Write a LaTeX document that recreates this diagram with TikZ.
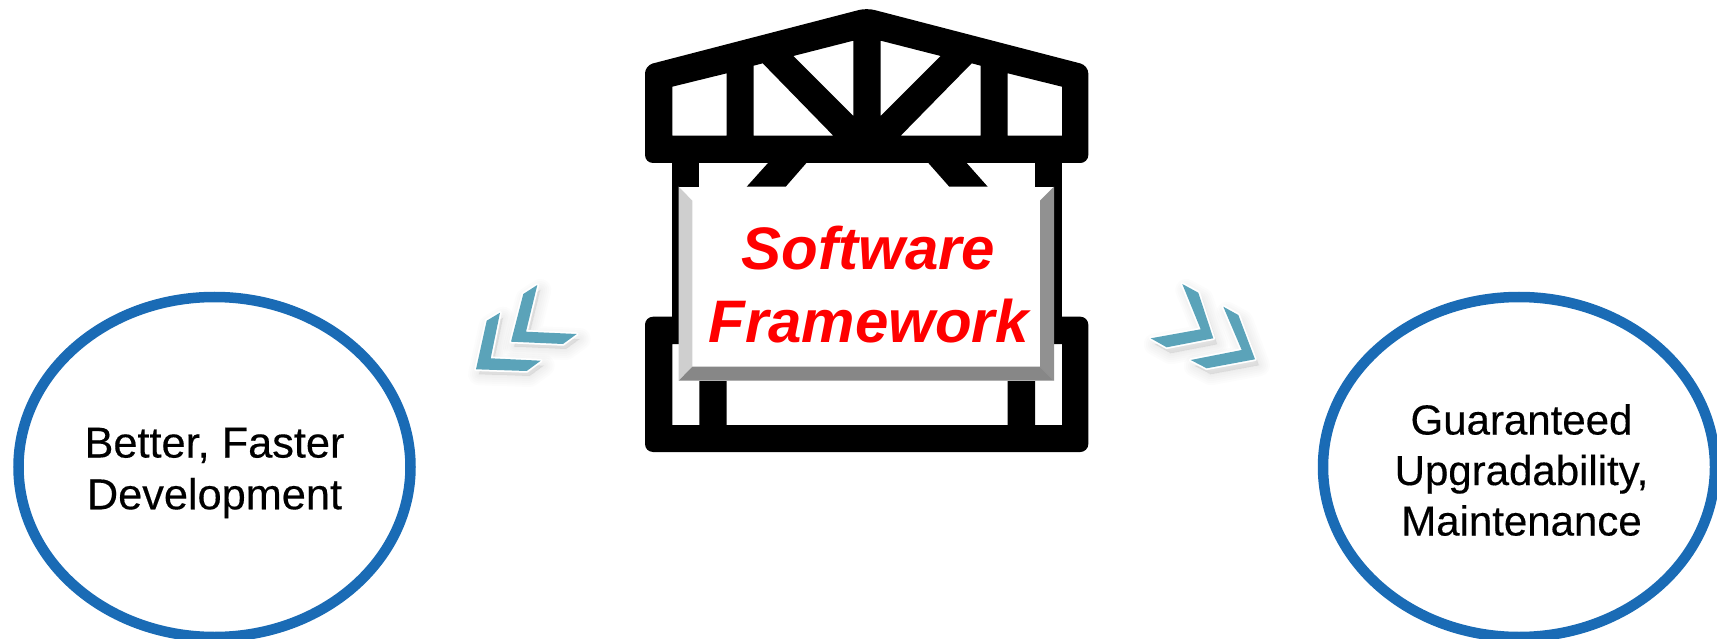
\documentclass[tikz,border=0pt]{standalone}
\usepackage{fontspec}
\setmainfont{Liberation Sans}
\newfontfamily\bubblefont{Liberation Sans}[FakeBold=0.35]
\usetikzlibrary{shapes.geometric}
\definecolor{bubbleblue}{HTML}{1A6BB5}
\definecolor{chevteal}{HTML}{5BA3B9}
\newcommand{\softchev}[3]{%
  \foreach \w in {22,18,14,10,6,2}{
    \fill[black,fill opacity=0.013,draw=black,draw opacity=0.013,line width=\w pt,line join=round,shift={(#1,#2)}] #3 -- cycle;
  }
  \draw[chevhalo] #3 -- cycle;
  \fill[chevteal] #3 -- cycle;
}
\begin{document}
\begin{tikzpicture}[x=1pt,y=-1pt,
  chevhalo/.style={draw=white,fill=white,line width=3.5pt,line join=round},
  bubble/.style={draw=bubbleblue,line width=10.5pt,ellipse,minimum width=392pt,minimum height=340pt,inner sep=0pt},
  bubbletext/.style={align=center,inner sep=0pt,font=\bubblefont},
  signtext/.style={text=red,font=\bfseries\itshape\fontsize{60}{73}\selectfont,align=center,inner sep=0pt}]
\useasboundingbox (0,0) rectangle (1717,639);
% truss
\fill[black,even odd rule,rounded corners=8pt]
  (866.7,8) -- (1088.3,65.5) -- (1088.3,163) -- (645,163) -- (645,65.5) -- cycle
  [sharp corners]
  (672.3,86.7) -- (726.7,73.3) -- (726.7,135.7) -- (672.3,135.7) -- cycle
  (753.7,65.7) -- (762.7,63.3) -- (833.3,135.7) -- (753.7,135.7) -- cycle
  (793.3,56) -- (853.3,40.7) -- (853.3,116) -- cycle
  (880.7,40.7) -- (940.7,56) -- (880.7,116) -- cycle
  (980.7,65.7) -- (971.7,63.3) -- (900.7,135.7) -- (980.7,135.7) -- cycle
  (1007.7,73.3) -- (1062,86.7) -- (1062,135.7) -- (1007.7,135.7) -- cycle;
% posts and diagonals
\fill[black] (672.3,160) rectangle (699.3,330);
\fill[black] (1035,160) rectangle (1062,330);
\fill[black] (770.7,160) -- (809,160) -- (785.7,186.7) -- (746.7,186.7) -- cycle;
\fill[black] (925.7,160) -- (964,160) -- (987.7,186.7) -- (949.3,186.7) -- cycle;
% base
\fill[black,even odd rule,rounded corners=8pt]
  (645,316.7) -- (1088.3,316.7) -- (1088.3,452) -- (645,452) -- cycle
  [sharp corners]
  (672.3,344) rectangle (699.3,425)
  (726.7,344) rectangle (1007.7,425)
  (1035,344) rectangle (1062,425);
% sign
\fill[white] (678.7,186.7) rectangle (1054,380.7);
\fill[black!19] (678.7,186.7) -- (692.3,200.7) -- (692.3,366.7) -- (678.7,380.7) -- cycle;
\fill[black!43] (1054,186.7) -- (1040,200.7) -- (1040,366.7) -- (1054,380.7) -- cycle;
\fill[black!47] (678.7,380.7) -- (692.3,366.7) -- (1040,366.7) -- (1054,380.7) -- cycle;
\node[signtext] (sign) at (868.5,284.5) {Software\\Framework};
% chevrons
\softchev{3}{5}{(537.3,285) -- (523.3,294) -- (511,341.7) -- (563,344) -- (576.7,334) -- (526,331.7)}
\softchev{3}{5}{(500,312.7) -- (486.7,320.7) -- (476,369.3) -- (526.7,371) -- (540.7,360.7) -- (490.7,358.3)}
\softchev{4}{6}{(1182.3,284) -- (1198.3,292.7) -- (1213.3,338.3) -- (1166.7,347.3) -- (1150.7,338.3) -- (1200.7,329.3)}
\softchev{4}{6}{(1223.3,306.7) -- (1238.3,315) -- (1255,359.3) -- (1206.7,368.3) -- (1190.7,360) -- (1241.7,350)}
% bubbles
\node[bubble] (left) at (214.5,467) {};
\node[bubble] (right) at (1519,467) {};
\node[bubbletext,font=\bubblefont\fontsize{43.3}{51.7}\selectfont] (lefttext) at (214.5,473) {Better, Faster\\Development};
\node[bubbletext,font=\bubblefont\fontsize{42}{50.5}\selectfont] (righttext) at (1521.5,470) {Guaranteed\\Upgradability,\\Maintenance};
\end{tikzpicture}
\end{document}
